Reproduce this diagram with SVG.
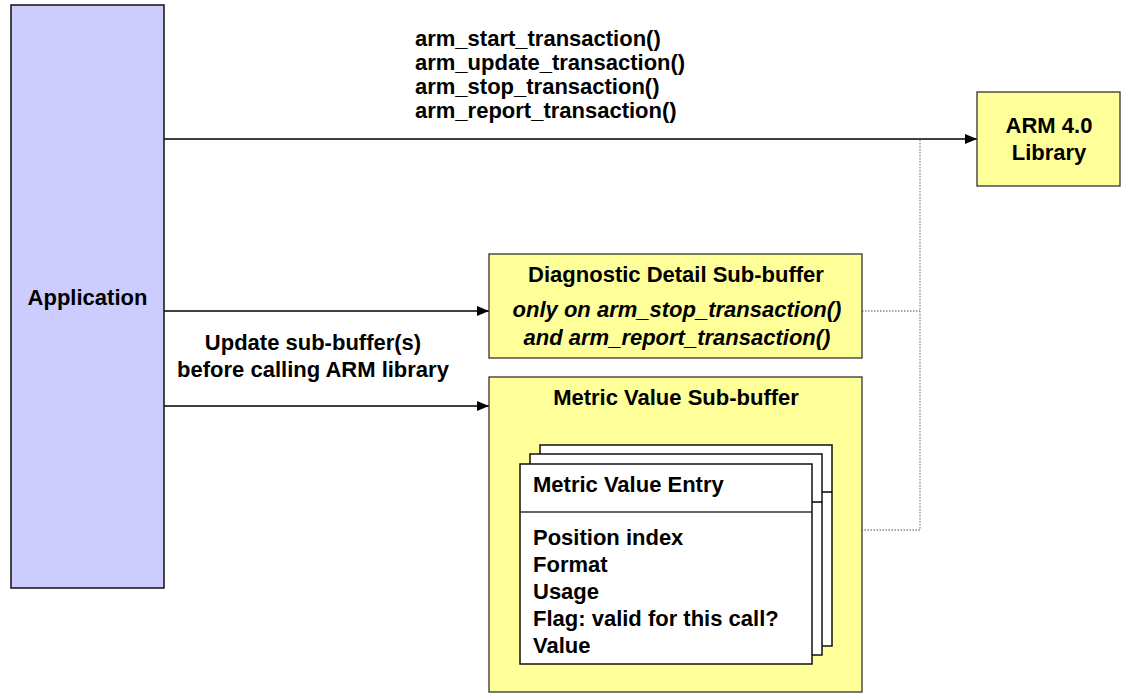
<svg xmlns="http://www.w3.org/2000/svg" width="1121" height="693" viewBox="0 0 1121 693">
<style>
text{font-family:"Liberation Sans",Arial,sans-serif;font-weight:bold;font-size:22px;fill:#000}
.it{font-style:italic}
.mid{text-anchor:middle}
.yb{fill:#FFFF99;stroke:#333;stroke-width:1.3}
.wb{fill:#FFFFFF;stroke:#111;stroke-width:1.5}
.ln{stroke:#000;stroke-width:1.3;fill:none}
.dot{stroke:#888;stroke-width:1.3;stroke-dasharray:1.5 1.5;fill:none}
</style>
<defs>
<marker id="ah" viewBox="0 0 12 10" refX="12" refY="5" markerWidth="12" markerHeight="10" markerUnits="userSpaceOnUse" orient="auto">
<path d="M0,0 L12,5 L0,10 Z" fill="#000"/>
</marker>
</defs>
<rect width="1121" height="693" fill="#fff"/>
<g id="connectors">
<line class="ln" x1="164" y1="139" x2="977" y2="139" marker-end="url(#ah)"/>
<line class="ln" x1="164" y1="311" x2="489" y2="311" marker-end="url(#ah)"/>
<line class="ln" x1="164" y1="406" x2="489" y2="406" marker-end="url(#ah)"/>
<polyline class="dot" points="920,140 920,530 862,530"/>
<line class="dot" x1="862" y1="311" x2="920" y2="311"/>
</g>
<g id="labels">
<text x="415" y="46">arm_start_transaction()</text>
<text x="415" y="70">arm_update_transaction()</text>
<text x="415" y="94">arm_stop_transaction()</text>
<text x="415" y="118">arm_report_transaction()</text>
<text class="mid" x="313" y="350">Update sub-buffer(s)</text>
<text class="mid" x="313" y="377">before calling ARM library</text>
</g>
<g id="application">
<rect x="11" y="5" width="153" height="583" fill="#CCCCFF" stroke="#111" stroke-width="1.5"/>
<text class="mid" x="87.5" y="305">Application</text>
</g>
<g id="arm-library">
<rect class="yb" x="977" y="92" width="143" height="94"/>
<text class="mid" x="1049" y="133">ARM 4.0</text>
<text class="mid" x="1049" y="160">Library</text>
</g>
<g id="diagnostic">
<rect class="yb" x="489" y="254" width="373" height="104"/>
<text class="mid" x="676" y="282">Diagnostic Detail Sub-buffer</text>
<text class="mid it" x="677" y="317">only on arm_stop_transaction()</text>
<text class="mid it" x="677" y="345">and arm_report_transaction()</text>
</g>
<g id="metric-buffer">
<rect class="yb" x="489" y="377" width="373" height="315"/>
<text class="mid" x="676" y="405">Metric Value Sub-buffer</text>
</g>
<g id="metric-entry">
<rect class="wb" x="540" y="445" width="292" height="201"/>
<line class="ln" x1="540" y1="492" x2="832" y2="492"/>
<rect class="wb" x="530" y="454" width="292" height="201"/>
<line class="ln" x1="530" y1="502" x2="822" y2="502"/>
<rect class="wb" x="520" y="464" width="292" height="200"/>
<line stroke="#333" stroke-width="1.5" x1="520" y1="512" x2="812" y2="512"/>
<text x="533" y="492">Metric Value Entry</text>
<text x="533" y="545">Position index</text>
<text x="533" y="572">Format</text>
<text x="533" y="599">Usage</text>
<text x="533" y="626">Flag: valid for this call?</text>
<text x="533" y="653">Value</text>
</g>
</svg>
